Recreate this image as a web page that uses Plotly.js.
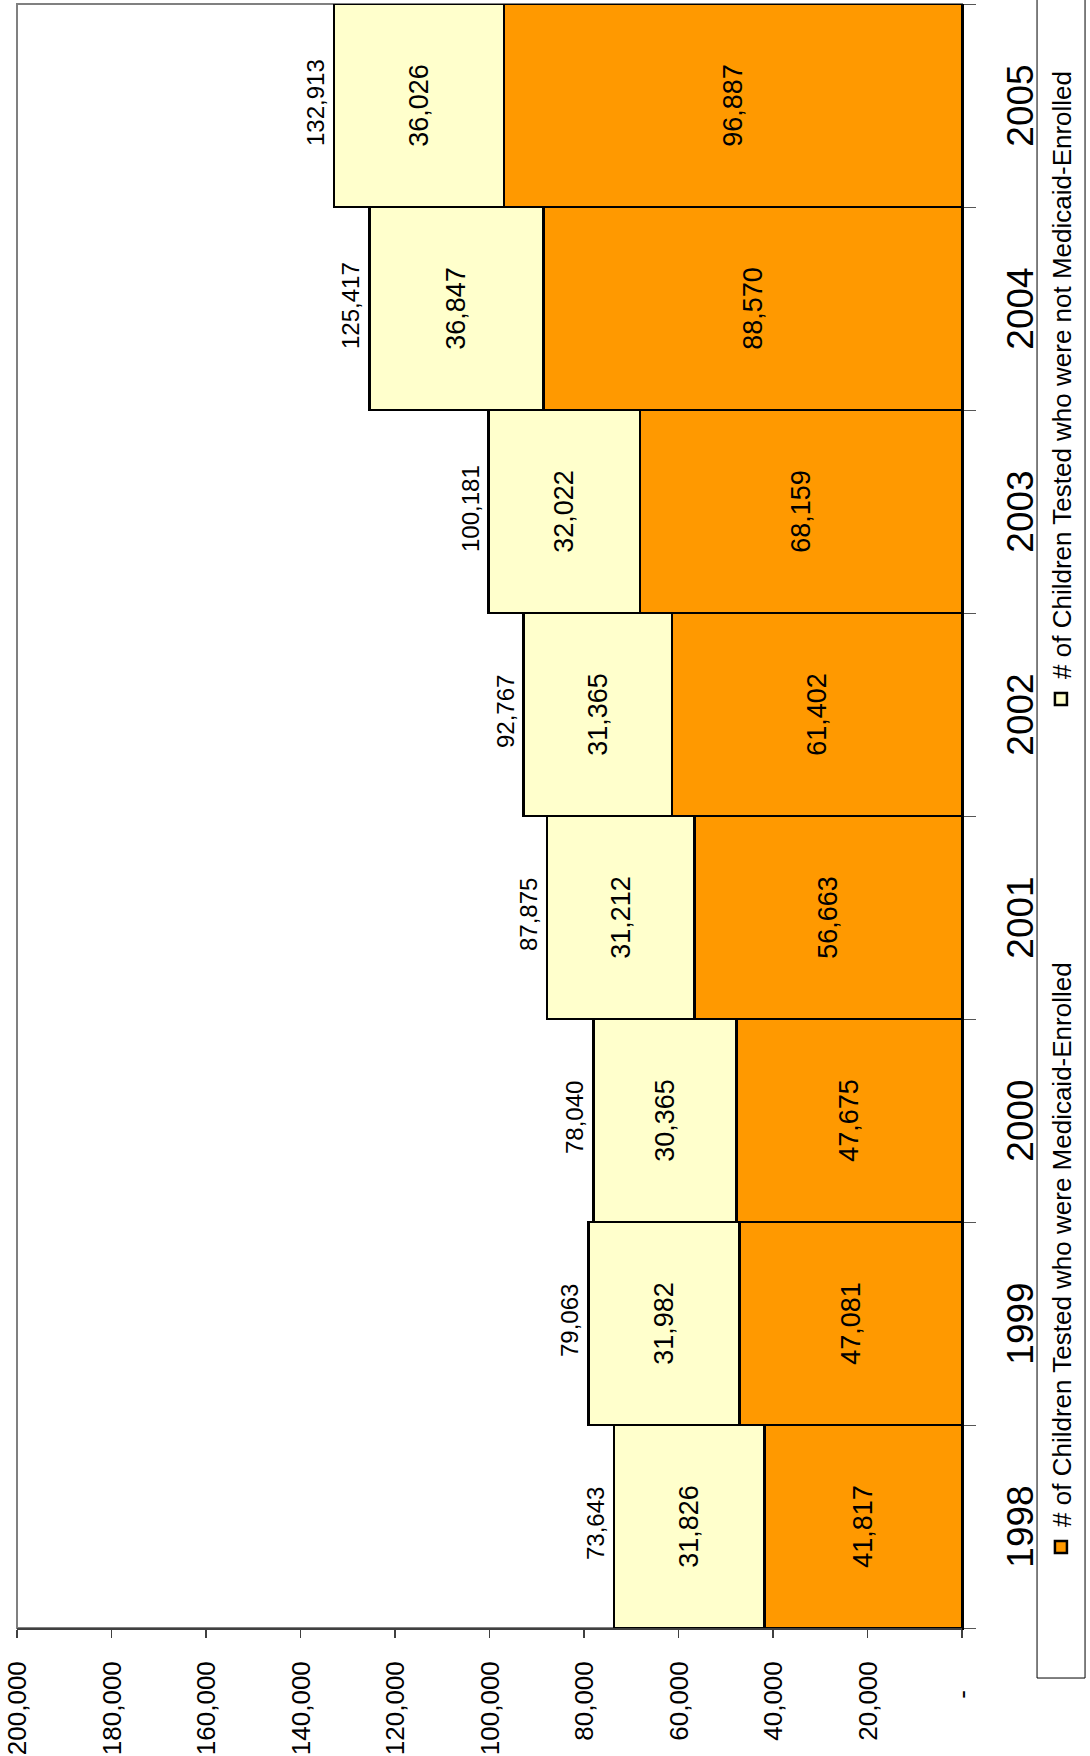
<!DOCTYPE html>
<html>
<head>
<meta charset="utf-8">
<script src="https://cdn.plot.ly/plotly-3.0.1.min.js"></script>
<style>
html, body { margin: 0; padding: 0; overflow: hidden; background: #fff; width: 1090px; height: 1756px; }
#wrap { position: absolute; left: 0; top: 0; width: 1756px; height: 1090px; transform-origin: 0 0; transform: translateY(1756px) rotate(-90deg); }
</style>
</head>
<body>
<div id="wrap"><div id="chart" style="width:1756px;height:1090px"></div></div>
<script>
// ---- data ----
const years = ['1998', '1999', '2000', '2001', '2002', '2003', '2004', '2005'];
const medicaidEnrolled = [41817, 47081, 47675, 56663, 61402, 68159, 88570, 96887];
const notMedicaidEnrolled = [31826, 31982, 30365, 31212, 31365, 32022, 36847, 36026];
const totals = [73643, 79063, 78040, 87875, 92767, 100181, 125417, 132913];
const seriesNames = [
  '# of Children Tested who were Medicaid-Enrolled',
  '# of Children Tested who were not Medicaid-Enrolled'
];
const valueTicks = [0, 20000, 40000, 60000, 80000, 100000, 120000, 140000, 160000, 180000, 200000];
const valueTickText = ['-\u00a0\u00a0\u00a0\u00a0', '20,000', '40,000', '60,000', '80,000', '100,000',
  '120,000', '140,000', '160,000', '180,000', '200,000'];

// ---- chart ----
const FONT = 'Arial, "Liberation Sans", sans-serif';
const fmt = v => v.toLocaleString('en-US');

const traces = [
  {
    type: 'bar', x: years, y: medicaidEnrolled, name: seriesNames[0],
    marker: { color: '#FF9900', line: { color: '#000000', width: 2.5 } },
    texttemplate: '%{y:,}', textposition: 'inside', insidetextanchor: 'middle',
    textangle: 0, constraintext: 'none',
    textfont: { size: 27, color: '#000000', family: FONT },
    legendwidth: 803, hoverinfo: 'skip'
  },
  {
    type: 'bar', x: years, y: notMedicaidEnrolled, name: seriesNames[1],
    marker: { color: '#FFFFCC', line: { color: '#000000', width: 2.5 } },
    texttemplate: '%{y:,}', textposition: 'inside', insidetextanchor: 'middle',
    textangle: 0, constraintext: 'none',
    textfont: { size: 27, color: '#000000', family: FONT },
    legendwidth: 700, hoverinfo: 'skip'
  }
];

// category axis: annotation x given as the category's serial number
const totalAnnotations = years.map((yr, i) => ({
  x: i, y: totals[i], xref: 'x', yref: 'y', text: fmt(totals[i]),
  showarrow: false, yanchor: 'bottom', xanchor: 'center',
  xshift: 3, yshift: 3, font: { size: 24, color: '#000000', family: FONT }
}));

const layout = {
  width: 1756, height: 1090,
  margin: { l: 128, r: 4, t: 17, b: 128, autoexpand: false },
  paper_bgcolor: '#ffffff', plot_bgcolor: '#ffffff',
  font: { family: FONT, color: '#000000' },
  barmode: 'stack', bargap: 0,
  showlegend: true,
  xaxis: {
    type: 'category', categoryorder: 'array', categoryarray: years,
    range: [-0.5, years.length - 0.5], autorange: false,
    tickson: 'boundaries', ticks: 'outside', ticklen: 12, tickwidth: 1, tickcolor: '#555555',
    showline: true, linecolor: '#000000', linewidth: 2,
    tickfont: { size: 37, family: FONT, color: '#000000' }, ticklabelstandoff: 25,
    showgrid: false, zeroline: false, fixedrange: true
  },
  yaxis: {
    range: [0, 200000], autorange: false, tickmode: 'array', tickvals: valueTicks, ticktext: valueTickText,
    ticks: 'outside', ticklen: 8, tickwidth: 1.5, tickcolor: '#404040',
    showline: true, linecolor: '#404040', linewidth: 2,
    tickfont: { size: 26, family: FONT, color: '#000000' }, ticklabelstandoff: 18,
    showgrid: false, zeroline: false, fixedrange: true
  },
  legend: {
    orientation: 'h', x: 0.0376, xanchor: 'left', y: -0.1048, yanchor: 'middle',
    font: { size: 26, family: FONT, color: '#000000' },
    bgcolor: 'rgba(0,0,0,0)', borderwidth: 0, traceorder: 'normal', itemwidth: 30
  },
  shapes: [
    { type: 'rect', xref: 'paper', yref: 'paper', x0: 0, x1: 1, y0: 0, y1: 1,
      line: { color: '#808080', width: 2 }, layer: 'below' },
    { type: 'rect', xref: 'paper', yref: 'paper', x0: -0.0308, x1: 1.006, y0: -0.0794, y1: -0.1302,
      line: { color: '#000000', width: 1 }, fillcolor: 'rgba(0,0,0,0)', layer: 'below' }
  ],
  annotations: totalAnnotations
};

Plotly.newPlot('chart', traces, layout, { staticPlot: true, responsive: false });
</script>
</body>
</html>
